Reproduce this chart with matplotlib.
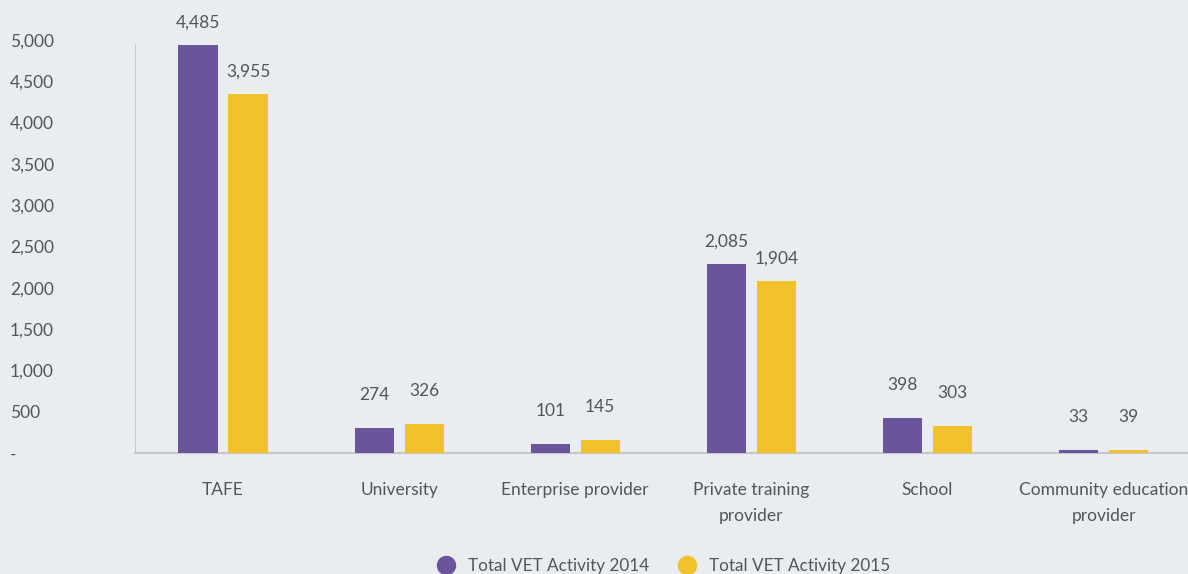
import numpy as np
import matplotlib.pyplot as plt

# categories and values
categories = ["TAFE", "University", "Enterprise provider", "Private training\nprovider",
              "School", "Community education\nprovider"]
labels_2014 = ["4,485", "274", "101", "2,085", "398", "33"]
labels_2015 = ["3,955", "326", "145", "1,904", "303", "39"]
# bar heights as drawn in the source chart
heights_2014 = [4940, 303, 109, 2288, 424, 35]
heights_2015 = [4346, 351, 157, 2082, 327, 37]
yticks = [0, 500, 1000, 1500, 2000, 2500, 3000, 3500, 4000, 4500, 5000]
ytick_labels = ["-", "500", "1,000", "1,500", "2,000", "2,500", "3,000", "3,500",
                "4,000", "4,500", "5,000"]

bg = "#e9edf0"
purple = "#6a549a"
yellow = "#f2c22c"
grey = "#555555"

plt.rcParams['font.family'] = ['Lato', 'DejaVu Sans']

fig = plt.figure(figsize=(11.88, 5.74), dpi=100, facecolor=bg)
ax = fig.add_axes([0.1136, 0.2108, 0.8894, 0.7195], facecolor=bg)

x = np.arange(len(categories))
w = 0.222
b1 = ax.bar(x - 0.142, heights_2014, w, color=purple, label="Total VET Activity 2014")
b2 = ax.bar(x + 0.142, heights_2015, w, color=yellow, label="Total VET Activity 2015")

for bars, texts in ((b1, labels_2014), (b2, labels_2015)):
    for r, t in zip(bars, texts):
        h = r.get_height()
        pad = 270 if h > 1000 else 400
        ax.text(r.get_x() + r.get_width() / 2, h + pad, t, ha='center', va='center',
                fontsize=12.5, color=grey, clip_on=False)

ax.set_xlim(-0.5, len(categories) - 0.5)
ax.set_ylim(0, 5000)
ax.set_yticks(yticks)
ax.set_yticklabels(ytick_labels)
ax.set_xticks(x)
ax.set_xticklabels(categories, linespacing=1.75)
ax.tick_params(axis='y', length=0, pad=90, labelsize=12.5, labelcolor=grey)
ax.tick_params(axis='x', length=0, pad=21, labelsize=12.5, labelcolor=grey)
for lab in ax.get_yticklabels():
    lab.set_horizontalalignment('left')

for s in ['top', 'right']:
    ax.spines[s].set_visible(False)
ax.spines['left'].set_color('#c8c8cc')
ax.spines['left'].set_bounds(0, 4950)
ax.spines['bottom'].set_color('#c8c8cc')
ax.spines['bottom'].set_linewidth(1.5)
ax.spines['bottom'].set_zorder(0.5)

h1 = plt.Line2D([], [], marker='o', color=purple, linestyle='none', markersize=13)
h2 = plt.Line2D([], [], marker='o', color=yellow, linestyle='none', markersize=13)
leg = fig.legend([h1, h2], ["Total VET Activity 2014", "Total VET Activity 2015"],
                 loc='center', bbox_to_anchor=(0.555, 0.014), ncol=2, frameon=False,
                 fontsize=12.3, handletextpad=0.3, columnspacing=1.2, labelcolor=grey)

fig.savefig("out.png", dpi=100, facecolor=bg)
